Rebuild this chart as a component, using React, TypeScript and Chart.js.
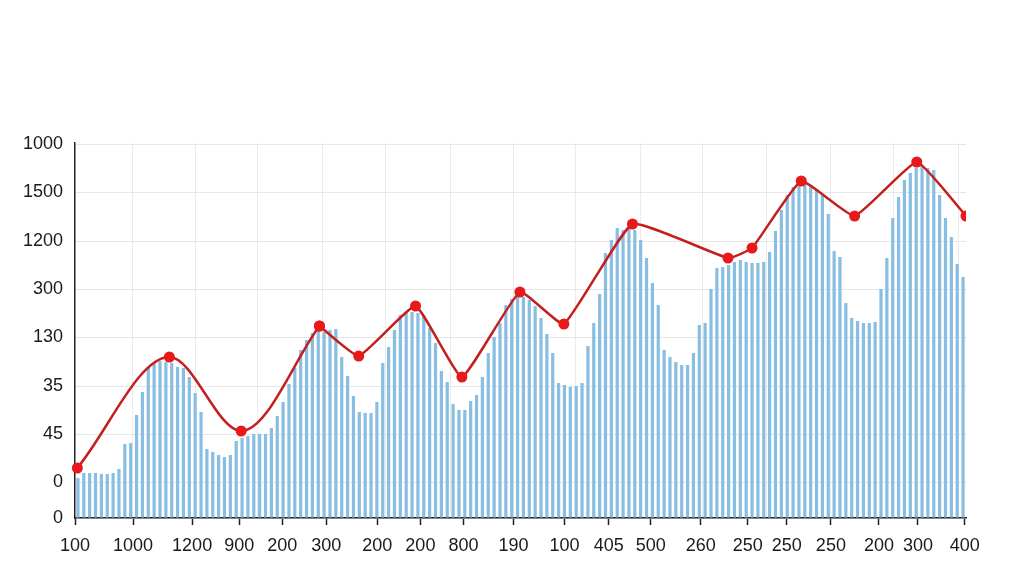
import React, { useEffect, useRef } from "react";
import { Chart, registerables } from "chart.js";

Chart.register(...registerables);

// Bar heights (value units, baseline 0)
const barValues = [
  40, 45, 45, 45, 44, 44, 45, 49, 74, 75, 103, 126, 150, 155, 157, 156, 155, 151, 150, 141,
  125, 106, 69, 66, 63, 61, 63, 77, 80, 82, 84, 84, 84, 90, 102, 116, 134, 150,
  168, 178, 185, 188, 186, 188, 189, 161, 142, 122, 106, 105, 105, 116, 155, 171, 188, 203,
  205, 206, 205, 203, 190, 175, 147, 136, 114, 108, 108, 117, 123, 141, 165, 181, 195, 213,
  219, 223,
  221, 218, 212, 200, 184, 165, 135, 133, 131, 132, 135, 172, 195, 224, 265, 278, 290, 288,
  291, 288, 278, 260, 235, 213, 168, 161, 156, 153, 153, 165, 193, 195, 229, 250, 251, 253,
  256, 258,
  256, 255, 255, 256, 266, 287, 308, 323, 331, 335, 336, 333, 329, 323, 304, 267, 261, 215,
  200, 197, 195, 195, 196, 229, 260, 300, 321, 338, 345, 350, 352, 350, 348, 323, 300, 281,
  254, 241,
];

// Red line points (x in bar-index units)
const lineX = [-0.1, 15.6, 27.85, 41.2, 47.9, 57.6, 65.5, 75.4, 82.9, 94.6, 110.9, 115.0, 123.4, 132.5, 143.1, 151.5];
const lineY = [50, 161, 87, 192, 162, 212, 141, 226, 194, 294, 260, 270, 337, 302, 356, 302];
// the first points are joined by a smooth curve, the rest by near-straight segments
const smoothCount = 4;

// Y axis ticks
const yTickValues = [0, 36, 84, 132, 181, 229, 277, 326, 374];
const yTickLabels = ["0", "0", "45", "35", "130", "300", "1200", "1500", "1000"];

// X axis ticks (positions in bar-index units)
const xTickPositions = [-0.5, 9.41, 19.48, 27.51, 34.85, 42.37, 51.08, 58.42, 65.77, 74.31, 83.02, 90.54, 97.71, 106.25, 114.28, 120.94, 128.45, 136.65, 143.31, 151.3];
const xTickLabels = ["100", "1000", "1200", "900", "200", "300", "200", "200", "800", "190", "100", "405", "500", "260", "250", "250", "250", "200", "300", "400"];

// Vertical gridline positions (bar-index units)
const gridPositions = [9.24, 19.99, 30.58, 41.69, 52.45, 63.55, 74.31, 84.9, 96.0, 106.59, 117.52, 128.45, 139.21, 150.22];

const FONT = { family: "'Liberation Sans', Arial, Helvetica, sans-serif", size: 18 };

export default function App() {
  const ref = useRef<HTMLCanvasElement>(null);

  useEffect(() => {
    const barData = barValues.map((v, i) => ({ x: i, y: v }));
    const linePts = lineX.map((x, i) => ({ x, y: lineY[i] }));
    const smoothPts = linePts.slice(0, smoothCount);
    const straightPts = linePts.slice(smoothCount - 1);

    const lineStyle = {
      type: "line",
      borderColor: "#c41f1f",
      borderWidth: 2.5,
      pointRadius: 5.5,
      pointBackgroundColor: "#e8191b",
      pointBorderColor: "#e8191b",
      pointBorderWidth: 0,
      clip: { left: false, top: false, bottom: false, right: 0 },
      order: 0,
      xAxisID: "x",
      yAxisID: "y",
    };

    const chart = new Chart(ref.current as HTMLCanvasElement, {
      type: "bar",
      data: {
        datasets: [
          {
            type: "bar",
            data: barData as any,
            backgroundColor: "#88bee2",
            borderWidth: 0,
            barPercentage: 0.55,
            categoryPercentage: 1,
            order: 1,
            xAxisID: "x",
            yAxisID: "y",
          } as any,
          { ...lineStyle, data: smoothPts, cubicInterpolationMode: "monotone" } as any,
          { ...lineStyle, data: straightPts, tension: 0.12 } as any,
        ],
      },
      options: {
        responsive: false,
        animation: false,
        devicePixelRatio: 1,
        layout: { padding: { left: 0, right: 58, top: 143, bottom: 0 } },
        plugins: { legend: { display: false }, tooltip: { enabled: false } },
        scales: {
          xg: {
            type: "linear",
            position: "bottom",
            offset: false,
            min: -0.5,
            max: 151.5,
            afterBuildTicks: (scale: any) => {
              scale.ticks = gridPositions.map((v) => ({ value: v }));
            },
            afterFit: (scale: any) => {
              scale.height = 0;
            },
            ticks: { display: false },
            grid: { color: "#ebebeb", lineWidth: 1, drawTicks: false, offset: false },
            border: { display: false },
          },
          x: {
            type: "linear",
            position: "bottom",
            offset: false,
            min: -0.5,
            max: 151.5,
            afterBuildTicks: (scale: any) => {
              scale.ticks = xTickPositions.map((v) => ({ value: v }));
            },
            afterFit: (scale: any) => {
              scale.height = 58;
            },
            ticks: {
              autoSkip: false,
              maxRotation: 0,
              minRotation: 0,
              padding: 10,
              color: "#1a1a1a",
              font: FONT,
              callback: (_v: any, i: number) => xTickLabels[i],
            },
            grid: {
              offset: false,
              drawOnChartArea: false,
              drawTicks: true,
              tickLength: 7,
              tickColor: "#222",
              tickWidth: 1.5,
            },
            border: { display: true, color: "#222", width: 1.5 },
          },
          y: {
            type: "linear",
            position: "left",
            min: 0,
            max: 375,
            afterBuildTicks: (scale: any) => {
              scale.ticks = yTickValues.map((v) => ({ value: v }));
            },
            afterFit: (scale: any) => {
              scale.width = 75;
            },
            ticks: {
              padding: 12,
              color: "#1a1a1a",
              font: FONT,
              callback: (_v: any, i: number) => yTickLabels[i],
            },
            grid: { color: "#e6e6e6", lineWidth: 1, drawTicks: false },
            border: { display: true, color: "#222", width: 1.5 },
          },
        },
      } as any,
    });

    return () => chart.destroy();
  }, []);

  return (
    <div style={{ position: "absolute", left: 0, top: 0, width: 1024, height: 576, background: "#fff" }}>
      <canvas ref={ref} width={1024} height={576} style={{ display: "block", width: 1024, height: 576 }} />
    </div>
  );
}
